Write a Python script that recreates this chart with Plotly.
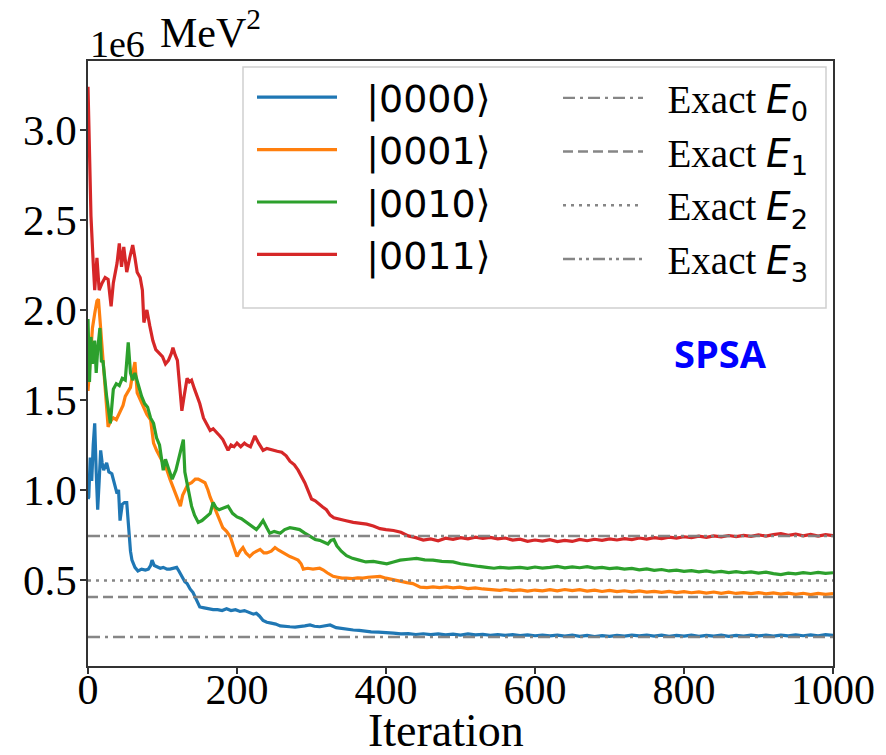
import plotly.graph_objects as go

# ---------------- data (energies in units of 1e6 MeV^2) ----------------
iter_0000 = [0, 1, 3, 5, 7, 9, 11, 13, 15, 17, 19, 21, 25, 28, 32, 36, 39, 41, 43, 46, 49, 52, 55, 57, 59, 63, 67, 72, 77, 81, 84, 86, 89, 93, 97, 101, 106, 110, 114, 119, 122, 126, 130, 133, 137, 141, 145, 150, 156, 162, 168, 174, 180, 186, 192, 198, 204, 210, 216, 222, 226, 230, 235, 240, 246, 252, 258, 265, 271, 278, 284, 291, 298, 304, 311, 318, 325, 333, 340, 348, 356, 364, 372, 380, 390, 401, 410, 420, 430, 440, 450, 460, 470, 480, 490, 500, 510, 520, 530, 540, 550, 560, 570, 580, 590, 600, 610, 620, 630, 640, 650, 660, 670, 680, 690, 700, 710, 720, 730, 740, 750, 760, 770, 780, 790, 800, 810, 820, 830, 840, 850, 860, 870, 880, 890, 900, 910, 920, 930, 940, 950, 960, 970, 980, 990, 1000]
e_0000 = [0.95, 0.96, 1.18, 1.05, 1.25, 1.37, 1.10, 0.89, 1.05, 1.22, 1.15, 1.11, 1.15, 1.10, 1.09, 1.02, 0.98, 1.00, 0.83, 0.92, 0.93, 0.93, 0.74, 0.66, 0.61, 0.57, 0.55, 0.56, 0.555, 0.56, 0.58, 0.61, 0.58, 0.57, 0.565, 0.57, 0.56, 0.56, 0.565, 0.57, 0.55, 0.52, 0.49, 0.48, 0.45, 0.43, 0.39, 0.35, 0.345, 0.34, 0.335, 0.335, 0.33, 0.34, 0.33, 0.335, 0.325, 0.33, 0.32, 0.31, 0.315, 0.30, 0.275, 0.265, 0.26, 0.255, 0.245, 0.24, 0.24, 0.238, 0.24, 0.245, 0.25, 0.243, 0.24, 0.245, 0.25, 0.235, 0.23, 0.228, 0.222, 0.22, 0.215, 0.212, 0.21, 0.208, 0.205, 0.20, 0.202, 0.197, 0.201, 0.196, 0.20, 0.195, 0.199, 0.194, 0.20, 0.195, 0.198, 0.193, 0.197, 0.192, 0.196, 0.191, 0.195, 0.19, 0.194, 0.189, 0.193, 0.188, 0.194, 0.187, 0.192, 0.186, 0.191, 0.187, 0.192, 0.188, 0.193, 0.189, 0.194, 0.188, 0.193, 0.187, 0.192, 0.188, 0.193, 0.187, 0.192, 0.188, 0.193, 0.187, 0.192, 0.188, 0.193, 0.189, 0.194, 0.188, 0.193, 0.189, 0.195, 0.19, 0.195, 0.19, 0.196, 0.192]

iter_0001 = [0, 3, 6, 9, 12, 14, 16, 18, 20, 23, 25, 27, 30, 34, 38, 43, 47, 50, 54, 57, 60, 63, 66, 70, 74, 79, 84, 88, 92, 97, 101, 106, 110, 114, 119, 124, 127, 130, 134, 139, 144, 148, 153, 157, 161, 164, 169, 173, 177, 181, 186, 191, 195, 200, 204, 208, 212, 217, 222, 226, 231, 236, 240, 246, 251, 256, 262, 266, 271, 277, 282, 286, 289, 295, 302, 311, 316, 321, 325, 329, 335, 341, 347, 355, 362, 369, 376, 384, 392, 400, 410, 419, 428, 436, 441, 446, 455, 463, 472, 481, 490, 499, 510, 520, 530, 540, 553, 560, 570, 580, 590, 600, 610, 620, 630, 640, 650, 660, 670, 680, 690, 700, 710, 720, 730, 740, 750, 760, 770, 780, 790, 800, 810, 820, 830, 840, 850, 860, 870, 880, 890, 900, 910, 920, 930, 940, 950, 960, 970, 980, 990, 1000]
e_0001 = [1.55, 1.75, 1.90, 1.98, 2.05, 2.06, 1.95, 1.85, 1.72, 1.55, 1.46, 1.35, 1.38, 1.40, 1.39, 1.44, 1.47, 1.52, 1.55, 1.57, 1.65, 1.71, 1.54, 1.50, 1.46, 1.42, 1.39, 1.26, 1.22, 1.18, 1.15, 1.11, 1.06, 1.02, 0.96, 0.91, 0.97, 1.00, 1.03, 1.04, 1.06, 1.06, 1.05, 1.04, 1.00, 0.96, 0.91, 0.87, 0.83, 0.79, 0.77, 0.74, 0.69, 0.63, 0.66, 0.68, 0.65, 0.63, 0.65, 0.66, 0.67, 0.65, 0.65, 0.66, 0.68, 0.665, 0.65, 0.64, 0.63, 0.62, 0.61, 0.59, 0.56, 0.565, 0.56, 0.565, 0.555, 0.54, 0.53, 0.52, 0.515, 0.51, 0.51, 0.508, 0.512, 0.51, 0.515, 0.518, 0.52, 0.51, 0.50, 0.49, 0.485, 0.48, 0.47, 0.46, 0.458, 0.462, 0.457, 0.461, 0.456, 0.46, 0.452, 0.456, 0.45, 0.447, 0.442, 0.447, 0.441, 0.445, 0.438, 0.444, 0.439, 0.446, 0.44, 0.447, 0.441, 0.446, 0.438, 0.443, 0.436, 0.442, 0.435, 0.44, 0.434, 0.439, 0.432, 0.437, 0.431, 0.436, 0.43, 0.435, 0.429, 0.434, 0.427, 0.433, 0.426, 0.432, 0.425, 0.43, 0.424, 0.43, 0.423, 0.428, 0.421, 0.427, 0.42, 0.426, 0.419, 0.425, 0.42, 0.424]

iter_0010 = [0, 2, 4, 6, 9, 11, 13, 16, 18, 20, 25, 30, 34, 38, 42, 46, 50, 54, 57, 60, 63, 67, 72, 76, 80, 84, 88, 92, 96, 101, 104, 108, 113, 118, 122, 126, 128, 130, 133, 136, 139, 143, 148, 153, 158, 164, 168, 172, 176, 182, 188, 194, 200, 206, 213, 220, 226, 230, 235, 240, 244, 250, 258, 264, 271, 278, 284, 291, 298, 305, 311, 318, 322, 326, 330, 334, 340, 347, 355, 364, 373, 383, 392, 401, 410, 419, 430, 441, 452, 463, 475, 490, 500, 513, 525, 535, 545, 553, 565, 580, 590, 600, 610, 620, 630, 640, 650, 660, 670, 680, 690, 700, 710, 720, 730, 740, 750, 760, 770, 780, 790, 800, 810, 820, 830, 840, 850, 860, 870, 880, 890, 900, 910, 920, 930, 940, 950, 960, 970, 980, 990, 1000]
e_0010 = [1.95, 1.60, 1.85, 1.70, 1.83, 1.65, 1.78, 1.90, 1.71, 1.72, 1.52, 1.37, 1.56, 1.59, 1.58, 1.62, 1.61, 1.82, 1.65, 1.61, 1.65, 1.59, 1.52, 1.48, 1.46, 1.40, 1.37, 1.29, 1.25, 1.11, 1.17, 1.12, 1.06, 1.11, 1.18, 1.26, 1.28, 1.10, 1.04, 0.97, 0.91, 0.86, 0.82, 0.83, 0.85, 0.87, 0.93, 0.90, 0.89, 0.90, 0.91, 0.87, 0.85, 0.84, 0.82, 0.80, 0.78, 0.80, 0.83, 0.79, 0.76, 0.77, 0.76, 0.78, 0.79, 0.785, 0.78, 0.76, 0.74, 0.725, 0.72, 0.71, 0.70, 0.72, 0.725, 0.69, 0.66, 0.635, 0.62, 0.61, 0.60, 0.603, 0.595, 0.59, 0.60, 0.61, 0.615, 0.62, 0.612, 0.61, 0.603, 0.60, 0.59, 0.58, 0.575, 0.57, 0.565, 0.57, 0.566, 0.57, 0.565, 0.572, 0.566, 0.57, 0.575, 0.567, 0.573, 0.568, 0.574, 0.566, 0.57, 0.563, 0.567, 0.56, 0.564, 0.556, 0.561, 0.553, 0.558, 0.55, 0.555, 0.548, 0.552, 0.545, 0.55, 0.543, 0.548, 0.541, 0.546, 0.54, 0.545, 0.538, 0.543, 0.535, 0.53, 0.538, 0.534, 0.541, 0.536, 0.542, 0.537, 0.54]

iter_0011 = [0, 2, 4, 7, 9, 12, 15, 19, 23, 27, 31, 34, 39, 42, 45, 48, 52, 56, 60, 63, 66, 70, 73, 75, 79, 83, 87, 91, 96, 100, 104, 108, 112, 114, 117, 120, 123, 126, 129, 133, 136, 139, 143, 147, 150, 155, 160, 164, 168, 173, 177, 181, 185, 188, 192, 196, 200, 205, 210, 213, 218, 224, 229, 235, 240, 248, 254, 260, 266, 271, 277, 282, 286, 291, 295, 300, 305, 310, 315, 320, 325, 330, 338, 345, 356, 365, 374, 383, 392, 400, 410, 420, 430, 440, 450, 460, 470, 480, 490, 500, 510, 520, 530, 540, 550, 560, 570, 580, 590, 600, 610, 620, 630, 640, 650, 660, 670, 680, 690, 700, 710, 720, 730, 740, 750, 760, 770, 780, 790, 800, 810, 820, 830, 840, 850, 860, 870, 880, 890, 900, 910, 920, 930, 940, 950, 960, 970, 980, 990, 1000]
e_0011 = [3.24, 2.80, 2.52, 2.26, 2.11, 2.29, 2.11, 2.15, 2.18, 2.17, 2.02, 2.15, 2.26, 2.37, 2.24, 2.35, 2.21, 2.29, 2.36, 2.29, 2.21, 2.18, 2.11, 1.93, 2.00, 1.91, 1.83, 1.78, 1.76, 1.74, 1.70, 1.72, 1.76, 1.79, 1.75, 1.72, 1.58, 1.44, 1.52, 1.62, 1.60, 1.61, 1.56, 1.52, 1.48, 1.40, 1.36, 1.33, 1.34, 1.32, 1.30, 1.28, 1.25, 1.22, 1.25, 1.24, 1.26, 1.24, 1.26, 1.25, 1.24, 1.30, 1.26, 1.22, 1.23, 1.22, 1.215, 1.21, 1.19, 1.16, 1.14, 1.11, 1.08, 1.04, 1.00, 0.95, 0.94, 0.92, 0.905, 0.89, 0.86, 0.845, 0.835, 0.83, 0.82, 0.815, 0.81, 0.80, 0.785, 0.78, 0.775, 0.765, 0.745, 0.735, 0.722, 0.728, 0.718, 0.732, 0.726, 0.735, 0.728, 0.738, 0.731, 0.736, 0.728, 0.733, 0.722, 0.727, 0.715, 0.722, 0.716, 0.724, 0.713, 0.72, 0.714, 0.725, 0.718, 0.726, 0.72, 0.728, 0.722, 0.73, 0.724, 0.733, 0.727, 0.735, 0.73, 0.738, 0.733, 0.74, 0.735, 0.743, 0.737, 0.745, 0.739, 0.747, 0.741, 0.748, 0.742, 0.75, 0.744, 0.752, 0.758, 0.748, 0.755, 0.745, 0.753, 0.744, 0.752, 0.746]

exact_E = [0.183, 0.405, 0.497, 0.744]
x_span = [0, 1000]

NB = "\u00a0"
state_labels = ["|0000⟩", "|0001⟩", "|0010⟩", "|0011⟩"]
exact_labels = ["Exact <span style=\"font-family:'DejaVu Sans'\"><i>E</i><sub>%d</sub></span>" % k
                for k in range(4)]

# ---------------- styles ----------------
colors = ["#1f77b4", "#ff7f0e", "#2ca02c", "#d62728"]
dashes = ["12px,5px,3px,5px", "10px,5px", "3px,5px", "12px,4px,3px,4px,3px,4px"]
SERIF = "Liberation Serif, Times New Roman, serif"
SANS = "DejaVu Sans, sans-serif"

W, H = 886, 755
L, R, T, B = 88, 53, 61, 89
pw, ph = W - L - R, H - T - B

def px_x(p):
    return (p - L) / pw

def px_y(p):
    return (H - B - p) / ph

fig = go.Figure()
series = [(iter_0000, e_0000), (iter_0001, e_0001), (iter_0010, e_0010), (iter_0011, e_0011)]
for i, (xs, ys) in enumerate(series):
    fig.add_trace(go.Scatter(x=xs, y=ys, mode="lines", name=NB * 2 + state_labels[i],
                             line=dict(color=colors[i], width=3.2), legend="legend",
                             legendrank=i))

for i, e in enumerate(exact_E):
    fig.add_trace(go.Scatter(x=x_span, y=[e, e], mode="lines", name=NB * 2 + exact_labels[i],
                             line=dict(color="rgba(128,128,128,0.95)", width=2.4, dash=dashes[i]),
                             legend="legend2", legendrank=i))

# legend frame
fig.add_shape(type="rect", xref="paper", yref="paper",
              x0=px_x(243), x1=px_x(826), y0=px_y(308), y1=px_y(67),
              line=dict(color="#d0d0d0", width=1.5), fillcolor="rgba(255,255,255,0.9)",
              layer="above")

fig.update_layout(
    width=W, height=H,
    margin=dict(l=L, r=R, t=T, b=B, autoexpand=False),
    plot_bgcolor="white", paper_bgcolor="white",
    font=dict(family=SERIF, size=40, color="black"),
    legend=dict(x=px_x(252), y=px_y(66), xanchor="left", yanchor="top",
                bgcolor="rgba(0,0,0,0)", borderwidth=0,
                font=dict(family=SANS, size=38, color="black"),
                tracegroupgap=0, itemwidth=80),
    legend2=dict(x=px_x(558), y=px_y(66), xanchor="left", yanchor="top",
                 bgcolor="rgba(0,0,0,0)", borderwidth=0,
                 font=dict(family=SERIF, size=39, color="black"),
                 tracegroupgap=0, itemwidth=80),
    xaxis=dict(range=[0, 1000], tickvals=[0, 200, 400, 600, 800, 1000],
               showline=True, linecolor="#333", linewidth=1.5, mirror=True,
               ticks="outside", ticklen=6, tickwidth=1.5, tickcolor="#333",
               showgrid=False, zeroline=False, automargin=False,
               ticklabelstandoff=-20,
               tickfont=dict(family=SERIF, size=42)),
    yaxis=dict(range=[0.022, 3.383], tickvals=[0.5, 1.0, 1.5, 2.0, 2.5, 3.0],
               tickformat=".1f", automargin=False,
               showline=True, linecolor="#333", linewidth=1.5, mirror=True,
               ticks="outside", ticklen=6, tickwidth=1.5, tickcolor="#333",
               showgrid=False, zeroline=False, ticklabelstandoff=-5,
               tickfont=dict(family=SERIF, size=43)),
)

fig.add_annotation(text="Iteration", xref="paper", yref="paper", x=px_x(446), y=px_y(730),
                   xanchor="center", yanchor="middle", showarrow=False,
                   font=dict(family=SERIF, size=46, color="black"))
fig.add_annotation(text="1e6", xref="paper", yref="paper", x=px_x(88), y=px_y(44),
                   xanchor="left", yanchor="middle", showarrow=False,
                   font=dict(family=SERIF, size=38, color="black"))
fig.add_annotation(text="MeV<sup>2</sup>", xref="paper", yref="paper", x=px_x(158), y=px_y(30),
                   xanchor="left", yanchor="middle", showarrow=False,
                   font=dict(family=SERIF, size=42, color="black"))
fig.add_annotation(text="<b>SPSA</b>", xref="paper", yref="paper", x=px_x(720), y=px_y(353),
                   xanchor="center", yanchor="middle", showarrow=False,
                   font=dict(family="Open Sans, sans-serif", size=38, color="#0000ff"))

fig.write_html("out.html")
